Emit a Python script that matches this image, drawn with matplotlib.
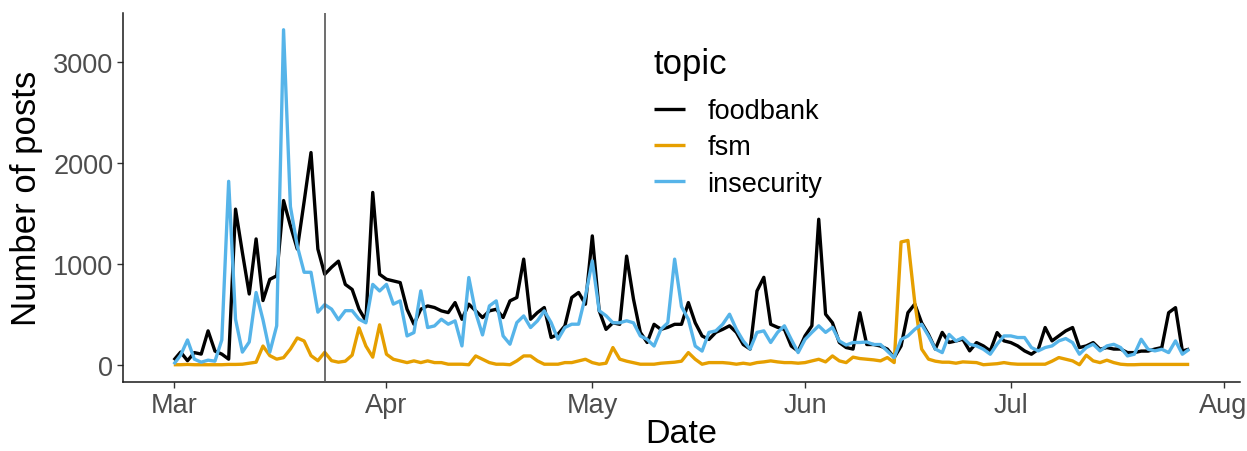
import matplotlib
matplotlib.use("Agg")
import matplotlib.pyplot as plt
import matplotlib.dates as mdates
import pandas as pd

plt.rcParams['font.family'] = ['Liberation Sans', 'DejaVu Sans']

# Daily post counts per topic, 1 March – 27 July 2020
start_date = "2020-03-01"
lockdown_date = "2020-03-23"

foodbank = [
    50, 130, 45, 125, 110, 340, 140, 110, 60, 1545,
    1115, 705, 1250, 640, 850, 885, 1630, 1380, 1150, 1620,
    2105, 1150, 900, 970, 1030, 800, 750, 555, 440, 1710,
    900, 851, 835, 818, 554, 406, 554, 587, 571, 538,
    521, 620, 455, 604, 538, 472, 538, 554, 472, 637,
    670, 1050, 455, 521, 571, 274, 307, 389, 670, 720,
    604, 1280, 540, 355, 420, 405, 1080, 655, 325, 225,
    405, 355, 375, 405, 405, 620, 420, 290, 255, 325,
    355, 390, 325, 205, 160, 735, 870, 405, 375, 355,
    190, 140, 290, 390, 1445, 505, 420, 225, 175, 160,
    520, 205, 205, 190, 160, 75, 190, 520, 605, 420,
    305, 160, 325, 225, 240, 257, 142, 224, 191, 142,
    323, 241, 224, 191, 142, 109, 158, 373, 241, 290,
    340, 373, 175, 191, 224, 158, 175, 160, 160, 125,
    125, 140, 140, 160, 175, 520, 570, 140, 160,
]

fsm = [
    5, 5, 8, 5, 5, 5, 5, 5, 8, 8,
    10, 20, 30, 190, 95, 60, 75, 160, 270, 240,
    95, 45, 128, 45, 30, 40, 100, 370, 190, 80,
    400, 109, 59, 43, 26, 43, 26, 43, 26, 26,
    10, 10, 10, 5, 92, 59, 26, 10, 10, 5,
    43, 92, 92, 43, 10, 10, 10, 26, 26, 43,
    59, 26, 10, 20, 175, 60, 40, 25, 10, 10,
    10, 20, 25, 30, 40, 125, 59, 10, 26, 26,
    26, 20, 10, 20, 10, 26, 33, 43, 33, 26,
    26, 20, 26, 43, 59, 33, 92, 43, 26, 80,
    66, 59, 53, 43, 76, 26, 1220, 1235, 620, 160,
    60, 40, 30, 30, 20, 33, 30, 26, 5, 10,
    15, 26, 15, 10, 10, 10, 10, 10, 40, 76,
    59, 43, 5, 99, 43, 26, 50, 26, 10, 5,
    5, 8, 8, 8, 8, 8, 8, 8, 8,
]

insecurity = [
    10, 100, 250, 60, 30, 50, 40, 250, 1820, 455,
    130, 230, 720, 450, 130, 390, 3320, 1570, 1180, 920,
    920, 525, 600, 555, 450, 540, 540, 455, 420, 800,
    735, 800, 605, 637, 290, 323, 736, 373, 389, 455,
    406, 439, 191, 868, 521, 300, 587, 637, 290, 208,
    422, 488, 373, 439, 538, 422, 257, 373, 406, 406,
    686, 1033, 540, 490, 420, 420, 440, 420, 290, 255,
    190, 355, 420, 1050, 580, 455, 190, 140, 325, 340,
    405, 505, 355, 240, 160, 325, 340, 225, 325, 390,
    255, 125, 255, 325, 390, 325, 375, 240, 200, 225,
    225, 230, 205, 205, 140, 75, 255, 290, 355, 405,
    290, 160, 125, 305, 240, 274, 208, 191, 158, 109,
    208, 290, 290, 274, 274, 175, 142, 175, 191, 241,
    264, 224, 109, 175, 208, 142, 191, 207, 175, 92,
    109, 257, 158, 142, 158, 125, 241, 109, 158,
]

topics = ["foodbank", "fsm", "insecurity"]
series = [foodbank, fsm, insecurity]
colors = ["#000000", "#E69F00", "#56B4E9"]

dates = pd.date_range(start_date, periods=len(foodbank), freq="D")

W, H = 1247, 452
fig = plt.figure(figsize=(W / 100, H / 100), dpi=100)
ax = fig.add_axes([123 / W, 1 - 383 / H, (1240 - 123) / W, (383 - 14) / H])

for name, values, color in zip(topics, series, colors):
    ax.plot(dates, values, color=color, linewidth=2.4, label=name,
            solid_joinstyle="round", solid_capstyle="butt")

ax.axvline(pd.Timestamp(lockdown_date), color="#555555", linewidth=1.2, zorder=5)

# ggplot-style 5% expansion on both axes
span = dates[-1] - dates[0]
ax.set_xlim(dates[0] - 0.05 * span, dates[-1] + 0.05 * span)
ymax = max(max(s) for s in series)
ax.set_ylim(-0.05 * ymax, 1.05 * ymax)

ax.xaxis.set_major_locator(mdates.MonthLocator())
ax.xaxis.set_major_formatter(mdates.DateFormatter("%b"))
ax.set_yticks([0, 1000, 2000, 3000])

for side in ("top", "right"):
    ax.spines[side].set_visible(False)
for side in ("left", "bottom"):
    ax.spines[side].set_color("#1a1a1a")
    ax.spines[side].set_linewidth(1.1)

ax.tick_params(axis="both", colors="#333333", length=4, width=1.0,
               labelsize=19.5, labelcolor="#4D4D4D", pad=3)

ax.set_xlabel("Date", fontsize=24.5, color="black", labelpad=0)
ax.set_ylabel("Number of posts", fontsize=25, color="black", labelpad=7)

leg = ax.legend(title="topic", loc="upper left",
                bbox_to_anchor=(654 / W, 1 - 48 / H), bbox_transform=fig.transFigure,
                frameon=False, fontsize=19.5, title_fontsize=25,
                handlelength=1.15, handletextpad=0.82, labelspacing=0.38,
                borderpad=0, borderaxespad=0, alignment="left")
for line in leg.get_lines():
    line.set_linewidth(2.4)
leg._legend_box.sep = 13

fig.savefig("out.png", dpi=100, facecolor="white")
